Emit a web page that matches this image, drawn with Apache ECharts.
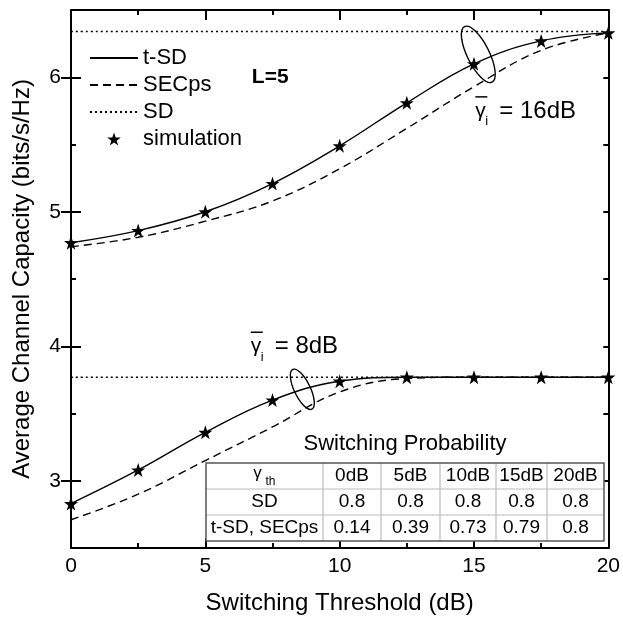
<!DOCTYPE html>
<html>
<head>
<meta charset="utf-8">
<script src="https://cdn.jsdelivr.net/npm/echarts@6/dist/echarts.min.js"></script>
<style>
  html, body { margin: 0; padding: 0; background: #fff; }
  #chart { width: 623px; height: 623px; }
</style>
</head>
<body>
<div id="chart"></div>
<script>
// switching threshold (dB)
const thresholds = [0, 2.5, 5, 7.5, 10, 12.5, 15, 17.5, 20];
// avg. capacity, gamma_i = 16dB
const tsd16 = [4.77, 4.86, 5.00, 5.21, 5.49, 5.81, 6.10, 6.27, 6.33];
const sec16 = [4.74, 4.81, 4.93, 5.08, 5.32, 5.62, 5.93, 6.20, 6.33];
// avg. capacity, gamma_i = 8dB
const tsd8 = [2.83, 3.08, 3.36, 3.60, 3.74, 3.77, 3.77, 3.77, 3.77];
const sec8 = [2.71, 2.90, 3.15, 3.40, 3.66, 3.76, 3.77, 3.77, 3.77];
// SD reference levels
const sdEnds = [0, 20];
const sd16 = [6.34, 6.34];
const sd8 = [3.77, 3.77];

const yLabels = [3, 4, 5, 6];

// switching probability table
const probCols = ['0dB', '5dB', '10dB', '15dB', '20dB'];
const probSD = ['0.8', '0.8', '0.8', '0.8', '0.8'];
const probTSD = ['0.14', '0.39', '0.73', '0.79', '0.8'];

const FONT = 'Liberation Sans, Arial, sans-serif';
const STAR = 'path://M50,0 L61.8,35.1 L97.6,35.1 L68.5,57 L79.4,91 L50,70 L20.6,91 L31.5,57 L2.4,35.1 L38.2,35.1 Z';

const zip = (xs, ys) => xs.map((x, i) => [x, ys[i]]);

const lineSeries = (name, data, dash) => ({
  name: name,
  type: 'line',
  data: data,
  smooth: 0.4,
  symbol: 'none',
  silent: true,
  lineStyle: { color: '#000', width: 1.4, type: dash || 'solid' },
  itemStyle: { color: '#000' },
  z: 3
});

const starSeries = (data) => ({
  name: 'simulation',
  type: 'scatter',
  data: data,
  symbol: STAR,
  symbolSize: 14,
  itemStyle: { color: '#000', opacity: 1 },
  z: 5
});

const xBase = (pos) => ({
  type: 'value', min: 0, max: 20, interval: 5, position: pos,
  axisLine: { show: true, onZero: false, lineStyle: { color: '#000', width: 2 } },
  axisTick: { show: true, inside: true, length: 10, lineStyle: { color: '#000', width: 2 } },
  minorTick: { show: true, splitNumber: 2, length: 5, lineStyle: { color: '#000', width: 2 } },
  splitLine: { show: false },
  axisLabel: { show: pos === 'bottom', color: '#000', fontSize: 21, fontFamily: FONT, margin: 8 }
});

const yMinor = (pos) => ({
  type: 'value', min: 2.5, max: 6.5, interval: 0.5, position: pos,
  axisLine: { show: true, onZero: false, lineStyle: { color: '#000', width: 2 } },
  axisTick: { show: true, inside: true, length: 5, lineStyle: { color: '#000', width: 2 } },
  splitLine: { show: false },
  axisLabel: {
    show: pos === 'left', color: '#000', fontSize: 21, fontFamily: FONT, margin: 10,
    formatter: v => (yLabels.indexOf(v) >= 0 ? String(v) : '')
  }
});

const yMajor = (pos) => ({
  type: 'value', min: 2.5, max: 6.5, position: pos,
  axisLine: { show: false },
  axisTick: { show: true, inside: true, length: 10, customValues: yLabels, lineStyle: { color: '#000', width: 2 } },
  splitLine: { show: false },
  axisLabel: { show: false }
});

const chart = echarts.init(document.getElementById('chart'));

const xAxisMain = xBase('bottom');
xAxisMain.name = 'Switching Threshold (dB)';
xAxisMain.nameLocation = 'middle';
xAxisMain.nameGap = 43;
xAxisMain.nameTextStyle = { color: '#000', fontSize: 24, fontFamily: FONT };

const yAxisMain = yMinor('left');
yAxisMain.name = 'Average Channel Capacity (bits/s/Hz)';
yAxisMain.nameLocation = 'middle';
yAxisMain.nameGap = 37;
yAxisMain.nameTextStyle = { color: '#000', fontSize: 24, fontFamily: FONT };

const hideSym = { itemStyle: { opacity: 0 } };

chart.setOption({
  animation: false,
  backgroundColor: '#fff',
  grid: { left: 71, right: 11, top: 10, bottom: 75, containLabel: false },
  legend: {
    data: [
      Object.assign({ name: 't-SD' }, hideSym),
      Object.assign({ name: 'SECps' }, hideSym),
      Object.assign({ name: 'SD' }, hideSym),
      { name: 'simulation' }
    ],
    orient: 'vertical',
    left: 84, top: 42,
    itemWidth: 48, itemHeight: 13, itemGap: 5,
    textStyle: { color: '#000', fontSize: 22, fontFamily: FONT },
    selectedMode: false
  },
  xAxis: [xAxisMain, xBase('top')],
  yAxis: [yAxisMain, yMajor('left'), yMinor('right'), yMajor('right')],
  series: [
    lineSeries('t-SD', zip(thresholds, tsd16)),
    lineSeries('SECps', zip(thresholds, sec16), [8, 5]),
    lineSeries('SD', zip(sdEnds, sd16), [2, 3]),
    starSeries(zip(thresholds, tsd16)),
    lineSeries('t-SD', zip(thresholds, tsd8)),
    lineSeries('SECps', zip(thresholds, sec8), [8, 5]),
    lineSeries('SD', zip(sdEnds, sd8), [2, 3]),
    starSeries(zip(thresholds, tsd8))
  ]
});

// ---- annotations ----
const px = (x, y) => chart.convertToPixel({ xAxisIndex: 0, yAxisIndex: 0 }, [x, y]);
const txt = (x, y, text, size, extra) => ({
  type: 'text', x: x, y: y, silent: true,
  style: Object.assign({ text: text, fill: '#000', fontSize: size, fontFamily: FONT,
    textAlign: 'left', textVerticalAlign: 'middle' }, extra || {}),
  z: 20
});

function gammaLabel(anchor, rest) {
  const [ax, ay] = anchor;
  return [
    { type: 'line', silent: true, z: 20, shape: { x1: ax, y1: ay - 14, x2: ax + 12, y2: ay - 14 },
      style: { stroke: '#000', lineWidth: 1.5 } },
    txt(ax, ay, 'γ', 21),
    txt(ax + 10, ay + 11, 'i', 13),
    txt(ax + 24, ay, rest, 24)
  ];
}

function ellipse(c, rx, ry, rot) {
  return { type: 'ellipse', x: c[0], y: c[1], rotation: rot, silent: true, z: 20,
    shape: { cx: 0, cy: 0, rx: rx, ry: ry },
    style: { fill: 'none', stroke: '#000', lineWidth: 1.4 } };
}

const graphics = [];
graphics.push(ellipse(px(15.16, 6.17), 11, 31, 0.46));
graphics.push(ellipse(px(8.61, 3.68), 8, 22, 0.45));
graphics.push(...gammaLabel(px(15.05, 5.75), '= 16dB'));
graphics.push(...gammaLabel(px(6.69, 4.0), '= 8dB'));
const l5 = px(6.73, 6.0);
graphics.push(txt(l5[0], l5[1], 'L=5', 21, { fontWeight: 'bold' }));

// switching probability table
const colX = [206, 323, 381, 440, 496, 547, 604];
const rowY = [463, 489, 515, 541];
const rows = [[null].concat(probCols), ['SD'].concat(probSD), ['t-SD, SECps'].concat(probTSD)];

graphics.push({ type: 'rect', silent: true, z: 15,
  shape: { x: colX[0], y: rowY[0], width: colX[6] - colX[0], height: rowY[3] - rowY[0] },
  style: { fill: '#fff', stroke: 'none' } });
for (let i = 1; i < colX.length - 1; i++) {
  graphics.push({ type: 'line', silent: true, z: 16,
    shape: { x1: colX[i], y1: rowY[0], x2: colX[i], y2: rowY[3] },
    style: { stroke: '#bbb', lineWidth: 1.2 } });
}
for (let j = 1; j < rowY.length - 1; j++) {
  graphics.push({ type: 'line', silent: true, z: 16,
    shape: { x1: colX[0], y1: rowY[j], x2: colX[6], y2: rowY[j] },
    style: { stroke: '#bbb', lineWidth: 1.2 } });
}
graphics.push({ type: 'rect', silent: true, z: 17,
  shape: { x: colX[0], y: rowY[0], width: colX[6] - colX[0], height: rowY[3] - rowY[0] },
  style: { fill: 'none', stroke: '#555', lineWidth: 1.5 } });

rows.forEach((row, j) => {
  const cy = (rowY[j] + rowY[j + 1]) / 2;
  row.forEach((cell, i) => {
    const cx = (colX[i] + colX[i + 1]) / 2;
    if (cell === null) {
      graphics.push(txt(cx - 7, cy - 3, 'γ', 17, { textAlign: 'center' }));
      graphics.push(txt(cx + 1, cy + 6, 'th', 12));
    } else {
      graphics.push(txt(cx, cy, cell, 19, { textAlign: 'center' }));
    }
  });
});
graphics.push(txt((colX[0] + colX[6]) / 2, 444, 'Switching Probability', 22, { textAlign: 'center' }));

chart.setOption({ graphic: graphics });
</script>
</body>
</html>
